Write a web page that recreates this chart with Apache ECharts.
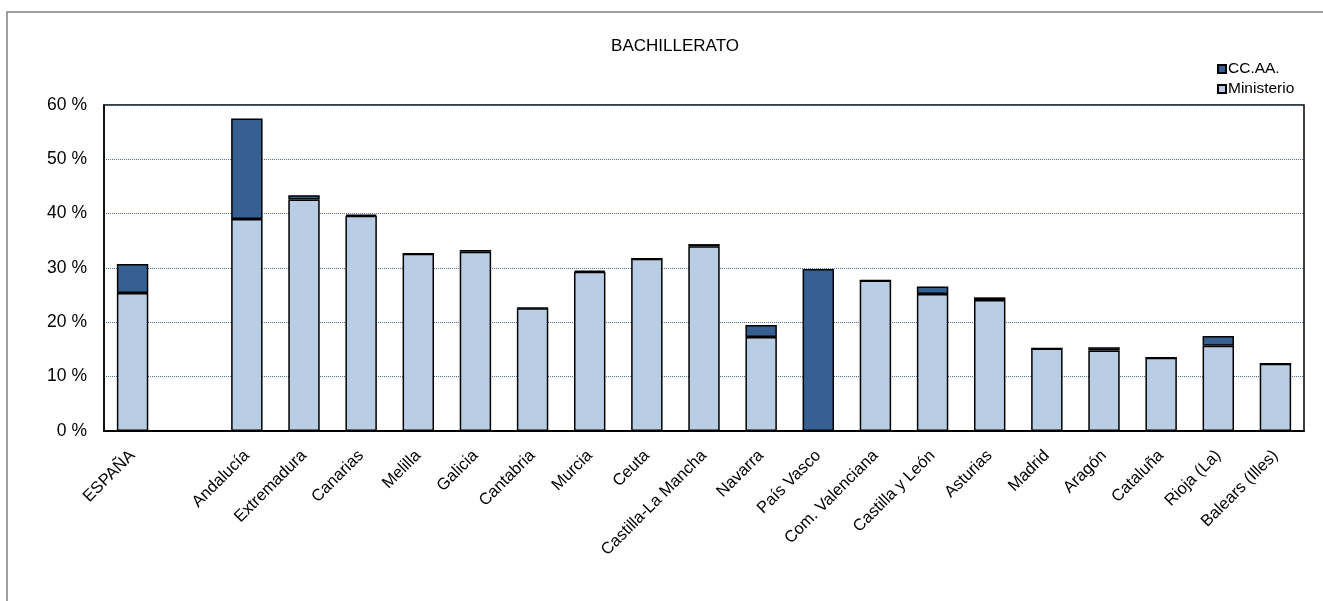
<!DOCTYPE html>
<html>
<head>
<meta charset="utf-8">
<script src="https://cdn.jsdelivr.net/npm/echarts@6/dist/echarts.min.js"></script>
<style>html,body{margin:0;padding:0;background:#fff;}#main{width:1323px;height:601px;}</style>
</head>
<body>
<div id="main"></div>
<script>
var categories = ['ESPAÑA','','Andalucía','Extremadura','Canarias','Melilla','Galicia','Cantabria','Murcia','Ceuta','Castilla-La Mancha','Navarra','País Vasco','Com. Valenciana','Castilla y León','Asturias','Madrid','Aragón','Cataluña','Rioja (La)','Balears (Illes)'];
var ministerio = [25.4,null,39.0,42.6,39.6,32.6,33.0,22.6,29.3,31.7,34.0,17.3,0,27.7,25.2,24.1,15.2,14.8,13.5,15.7,12.4];
var ccaa = [5.35,null,18.5,0.8,0.2,0,0.3,0.1,0.2,0,0.4,2.2,29.8,0,1.4,0.5,0,0.6,0,1.8,0];
var yTicks = [0,10,20,30,40,50,60];

var chart = echarts.init(document.getElementById('main'));
var font = 'Liberation Sans, Arial, sans-serif';
chart.setOption({
  animation: false,
  textStyle: {fontFamily: font},
  title: {text: 'BACHILLERATO', left: 670, top: 33, textAlign: 'center',
    textStyle: {fontSize: 17, fontWeight: 'normal', color: '#000', fontFamily: font}},
  legend: {
    data: ['CC.AA.', 'Ministerio'], orient: 'vertical', left: 1212, top: 56,
    itemWidth: 8, itemHeight: 8, itemGap: 4, icon: 'rect',
    textStyle: {fontSize: 15.5, color: '#000', padding: [0,0,0,-3]}
  },
  graphic: [{type: 'rect', shape: {x: 7, y: 12, width: 1400, height: 700}, style: {fill: 'none', stroke: '#808080', lineWidth: 1.5}, silent: true}],
  grid: {left: 104, right: 19, top: 105, bottom: 170, show: true, borderColor: '#000', borderWidth: 1.5, backgroundColor: 'transparent'},
  xAxis: {
    type: 'category', data: categories,
    axisLine: {lineStyle: {color: '#000', width: 2}},
    axisTick: {show: false},
    axisLabel: {rotate: 45, fontSize: 16.5, color: '#000', interval: 0, margin: 22}
  },
  yAxis: {
    type: 'value', min: 0, max: 60, interval: 10,
    axisLine: {show: true, lineStyle: {color: '#000', width: 1.5}},
    axisTick: {show: false},
    axisLabel: {formatter: '{value} %', fontSize: 17.5, color: '#000', margin: 17},
    splitLine: {lineStyle: {color: '#4a6fa5', type: 'dotted', width: 1}}
  },
  series: [
    {name: 'Ministerio', type: 'bar', stack: 'a', data: ministerio, barWidth: '55%',
     itemStyle: {color: '#b9cde5', borderColor: '#000', borderWidth: 1.5}},
    {name: 'CC.AA.', type: 'bar', stack: 'a', data: ccaa, barWidth: '55%',
     itemStyle: {color: '#376092', borderColor: '#000', borderWidth: 1.5}}
  ]
});
</script>
</body>
</html>
